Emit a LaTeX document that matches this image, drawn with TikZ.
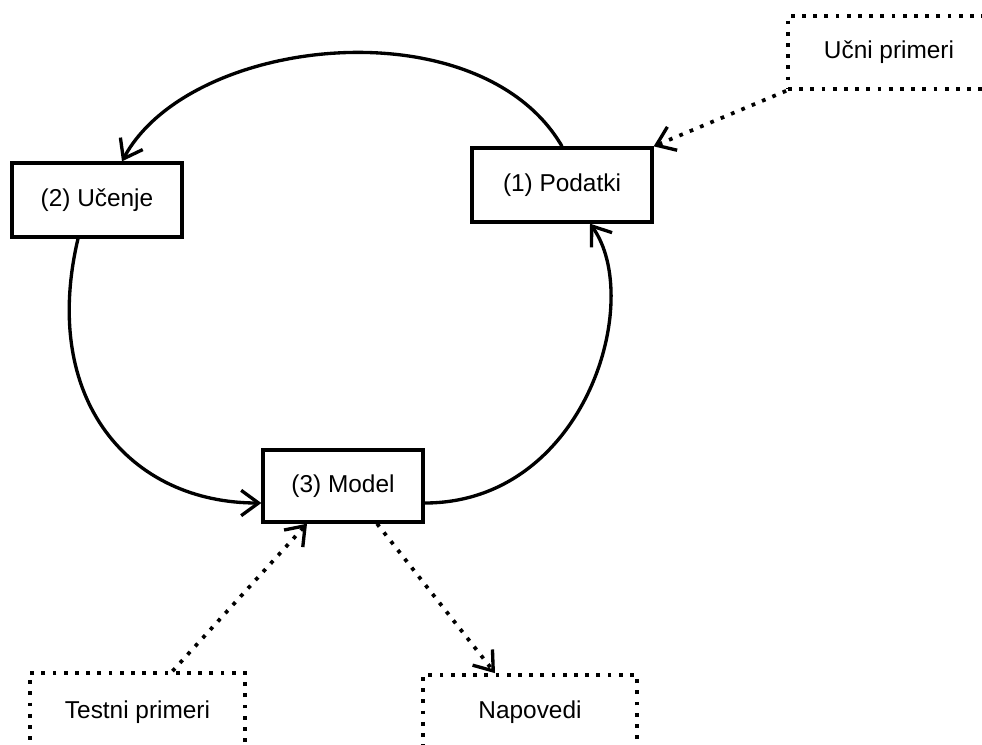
\documentclass[tikz,border=0pt]{standalone}
\usepackage{fontspec}
\setmainfont{Liberation Sans}
\usetikzlibrary{arrows.meta}
\begin{document}
\begin{tikzpicture}[x=0.75pt,y=-0.75pt,
  stage/.style={draw,line width=2.5pt,inner sep=0pt,font=\fontsize{18.3}{21}\selectfont},
  ext/.style={draw,line width=2.8pt,dash pattern=on 2.8pt off 5.6pt,inner sep=0pt,font=\fontsize{18.3}{21}\selectfont},
  flow/.style={line width=2.5pt,-{Straight Barb[length=13pt,width=19pt,line width=2.5pt]}},
  dflow/.style={line width=2.8pt,dash pattern=on 2.8pt off 5.6pt,-{Straight Barb[length=13pt,width=19pt,line width=2.5pt]}}]
\useasboundingbox (0,0) rectangle (982,744);
\clip (0,0) rectangle (982,744);
\node[stage,minimum width=127.5pt,minimum height=55.5pt] (u) at (97,200) {(2) Učenje};
\node[stage,minimum width=135pt,minimum height=55.5pt] (d) at (562,185) {(1) Podatki};
\node[stage,minimum width=120pt,minimum height=54pt] (m) at (343,486) {(3) Model};
\node[ext,minimum width=151.5pt,minimum height=54.75pt] (uc) at (889,52.5) {Učni primeri};
\node[ext,minimum width=161.25pt,minimum height=58.5pt] (te) at (137.5,712) {Testni primeri};
\node[ext,minimum width=160.5pt,minimum height=55.5pt] (na) at (530,712) {Napovedi};
% solid cycle
\draw[flow] (d.north) .. controls (480,5) and (190,35) .. ([xshift=18.75pt]u.north);
\draw[flow] ([xshift=-14.25pt]u.south) .. controls (40,400) and (130,503) .. ([yshift=-12.75pt]m.west);
\draw[flow] ([yshift=-12.75pt]m.east) .. controls (585,503) and (645,300) .. ([xshift=21pt]d.south);
% dotted
\draw[dflow] (uc.south west) -- (d.north east);
\draw[dflow] ([xshift=26.25pt]te.north) -- ([xshift=-27pt]m.south);
\draw[dflow] ([xshift=25.5pt]m.south) -- ([xshift=-26.25pt]na.north);
\end{tikzpicture}
\end{document}
